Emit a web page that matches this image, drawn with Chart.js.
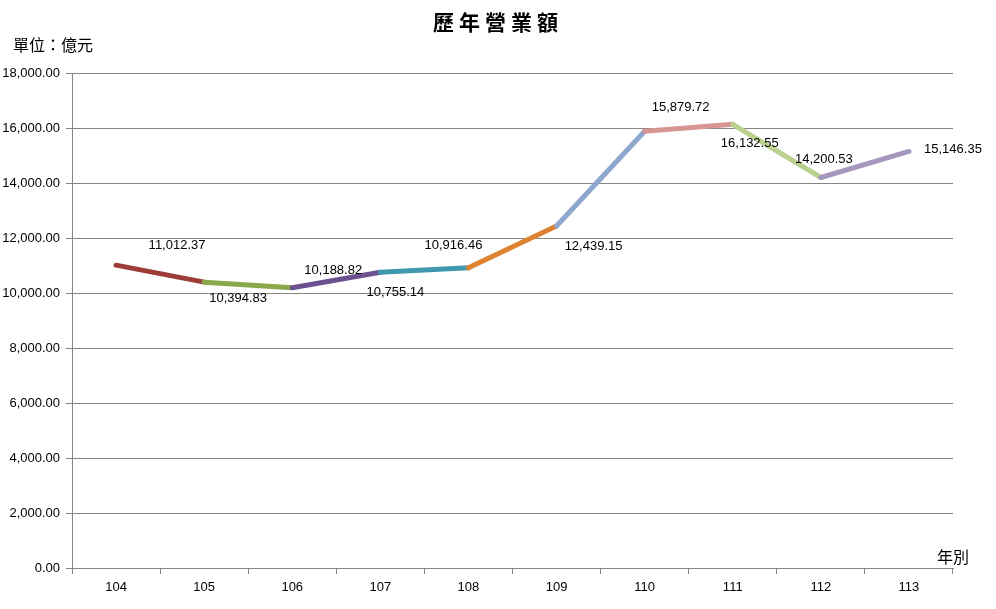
<!DOCTYPE html>
<html>
<head>
<meta charset="utf-8">
<title>歷年營業額</title>
<script src="https://cdn.jsdelivr.net/npm/chart.js@4.4.1/dist/chart.umd.min.js"></script>
<style>
  body { margin: 0; background: #fff; }
  #wrap { width: 996px; height: 609px; position: relative; }
</style>
</head>
<body>
<div id="wrap"><canvas id="revenueChart"></canvas></div>
<script>
// 資料
const years = ['104', '105', '106', '107', '108', '109', '110', '111', '112', '113'];
const revenue = [11012.37, 10394.83, 10188.82, 10755.14, 10916.46, 12439.15, 15879.72, 16132.55, 14200.53, 15146.35];

// 每段線的顏色
const segmentColors = ['#9c3d3a', '#8aa84a', '#6c5190', '#3f98ae', '#df8230', '#8ea7cf', '#d79594', '#b9d08f', '#a596bd'];
// 標籤位置 (相對於資料點)
const labelOffsets = [[61, -20], [34, 16], [41, -17], [15, 20], [-15, -22], [37, 20], [36, -24], [17, 19], [3, -18], [44, -2]];

const fmt = v => v.toLocaleString('en-US', { minimumFractionDigits: 2, maximumFractionDigits: 2 });

const textPlugin = {
    id: 'textPlugin',
    afterDatasetsDraw(chart) {
        const ctx = chart.ctx;
        const meta = chart.getDatasetMeta(0);
        ctx.save();
        ctx.fillStyle = '#000';
        ctx.font = '13px "Liberation Sans", Arial, sans-serif';
        ctx.textAlign = 'center';
        ctx.textBaseline = 'middle';
        meta.data.forEach((pt, i) => {
            const o = labelOffsets[i];
            ctx.fillText(fmt(revenue[i]), pt.x + o[0], pt.y + o[1]);
        });

        // 標題
        ctx.font = 'bold 21px "Noto Sans CJK TC", sans-serif';
        ctx.letterSpacing = '5px';
        ctx.fillText('歷年營業額', 498, 22);
        ctx.letterSpacing = '0px';

        ctx.font = '16px "Noto Sans CJK TC", sans-serif';
        ctx.textAlign = 'left';
        ctx.fillText('單位：億元', 13, 45);
        ctx.fillText('年別', 937, 557);
        ctx.restore();
    }
};

const ctx = document.getElementById('revenueChart').getContext('2d');
const revenueChart = new Chart(ctx, {
    type: 'line',
    data: {
        labels: years,
        datasets: [{
            data: revenue,
            borderWidth: 5,
            borderColor: segmentColors[0],
            borderCapStyle: 'round',
            pointRadius: 0,
            tension: 0,
            segment: {
                borderColor: c => segmentColors[c.p0DataIndex]
            }
        }]
    },
    options: {
        responsive: true,
        maintainAspectRatio: false,
        animation: false,
        layout: { padding: { top: 73, right: 43, left: 0, bottom: 0 } },
        plugins: {
            legend: { display: false },
            tooltip: { enabled: false }
        },
        scales: {
            x: {
                offset: true,
                grid: {
                    display: true,
                    offset: true,
                    drawOnChartArea: false,
                    drawTicks: true,
                    tickLength: 6,
                    color: '#868686'
                },
                border: { color: '#868686' },
                ticks: {
                    color: '#000',
                    padding: 6,
                    font: { family: '"Liberation Sans", Arial, sans-serif', size: 13 }
                },
                afterFit: s => { s.height = 41; }
            },
            y: {
                min: 0,
                max: 18000,
                ticks: {
                    stepSize: 2000,
                    color: '#000',
                    padding: 6,
                    font: { family: '"Liberation Sans", Arial, sans-serif', size: 13 },
                    callback: v => fmt(v)
                },
                grid: { color: '#868686', tickLength: 6 },
                border: { color: '#868686' },
                afterFit: s => { s.width = 72; }
            }
        }
    },
    plugins: [textPlugin]
});
</script>
</body>
</html>
